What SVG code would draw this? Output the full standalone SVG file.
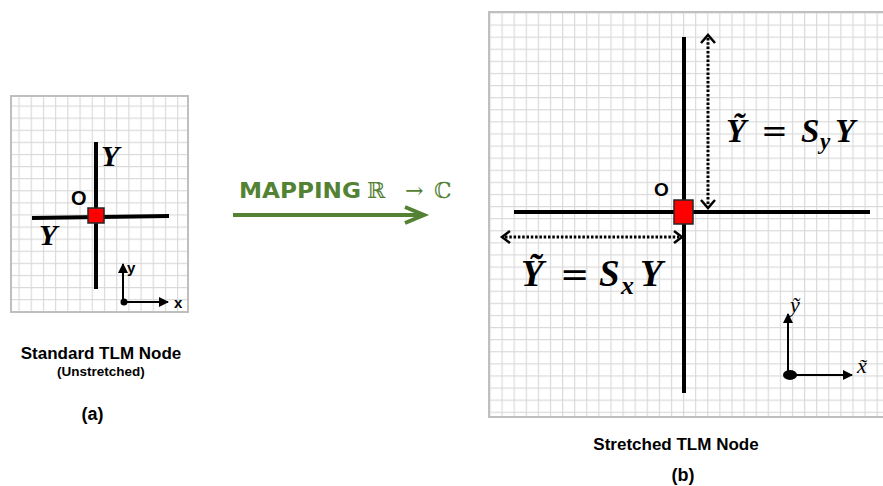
<svg xmlns="http://www.w3.org/2000/svg" width="883" height="486" viewBox="0 0 883 486">
<style>
.gl{stroke:#d9d9d9;stroke-width:1.3;fill:none}
.frame{fill:none;stroke:#bfbfbf;stroke-width:2}
.axis{stroke:#000;stroke-width:4;fill:none}
.node{fill:#ff0000;stroke:#262626;stroke-width:1.5}
.thin{stroke:#000;stroke-width:2;fill:none}
.dot{stroke:#000;stroke-width:3;stroke-dasharray:2.5 1.8;fill:none}
.chev{stroke:#000;stroke-width:2.5;fill:none}
.lbl{font-family:"Liberation Sans",Arial,sans-serif;font-weight:bold;fill:#000}
.math{font-family:"Liberation Serif","DejaVu Serif",serif;font-weight:bold;font-style:italic;fill:#000}
.eq{font-family:"DejaVu Serif",serif;font-weight:normal;font-style:normal;fill:#000}
.ax{font-family:"Liberation Serif","DejaVu Serif",serif;font-style:italic;fill:#000}
.green{fill:#548235}
</style>
<defs>
<pattern id="gA" x="18.5" y="105.5" width="12.2" height="12.1" patternUnits="userSpaceOnUse"><path d="M0.5 0V12.1M0 0.5H12.2" class="gl"/></pattern>
<pattern id="gB" x="501.5" y="24.5" width="12.1" height="12.1" patternUnits="userSpaceOnUse"><path d="M0.5 0V12.1M0 0.5H12.1" class="gl"/></pattern>
<marker id="ah" viewBox="0 0 10 10" refX="9" refY="5" markerWidth="5" markerHeight="5" orient="auto" markerUnits="strokeWidth"><path d="M0 0L10 5L0 10z" fill="#000"/></marker>
</defs>
<rect width="883" height="486" fill="#fff"/>

<g id="grid-a">
<rect x="11" y="96" width="177" height="216" fill="url(#gA)"/>
<rect x="11" y="96" width="177" height="216" class="frame"/>
</g>
<g id="grid-b">
<rect x="489" y="12" width="400" height="405" fill="url(#gB)"/>
<rect x="489" y="12" width="400" height="405" class="frame"/>
</g>

<g id="node-a">
<line x1="96" y1="142" x2="96" y2="289" class="axis"/>
<line x1="32" y1="218" x2="169" y2="216" class="axis"/>
<rect x="88" y="208" width="16" height="15" class="node"/>
<text x="71" y="205" class="lbl" font-size="20">O</text>
<text x="101" y="166" class="math" font-size="30">Y</text>
<text x="39" y="245" class="math" font-size="30">Y</text>
</g>
<g id="axes-a">
<line x1="123" y1="302" x2="123" y2="264" class="thin" marker-end="url(#ah)"/>
<line x1="123" y1="302" x2="168" y2="302" class="thin" marker-end="url(#ah)"/>
<circle cx="124" cy="302" r="3.5" fill="#000"/>
<text x="127" y="273" class="lbl" font-size="15">y</text>
<text x="174" y="308" class="lbl" font-size="15">x</text>
</g>
<g id="labels-a">
<text x="101" y="359" class="lbl" font-size="17" text-anchor="middle">Standard TLM Node</text>
<text x="101" y="376" class="lbl" font-size="13.5" text-anchor="middle">(Unstretched)</text>
<text x="92.5" y="420" class="lbl" font-size="18" text-anchor="middle">(a)</text>
</g>

<g id="mapping">
<text x="239" y="198" font-family="DejaVu Sans,sans-serif" font-weight="bold" font-size="21" textLength="122" lengthAdjust="spacingAndGlyphs" class="green">MAPPING</text>
<text y="198" font-family="DejaVu Serif,serif" font-size="22" class="green"><tspan x="367">ℝ</tspan><tspan x="405">→</tspan><tspan x="434">ℂ</tspan></text>
</g>

<g id="node-b">
<line x1="684" y1="37" x2="684" y2="393" class="axis"/>
<line x1="514" y1="212" x2="870" y2="212" class="axis"/>
<rect x="674" y="200" width="19" height="24" class="node"/>
<text x="654" y="196" class="lbl" font-size="19">O</text>
<text y="142" class="math" font-size="33"><tspan x="726">Ỹ</tspan><tspan x="761" class="eq" font-size="32">=</tspan><tspan x="801">S</tspan><tspan x="820" dy="7" font-size="23">y</tspan><tspan x="835" dy="-7">Y</tspan></text>
<text y="286" class="math" font-size="37"><tspan x="521">Ỹ</tspan><tspan x="560" class="eq" font-size="35">=</tspan><tspan x="599">S</tspan><tspan x="621" dy="8" font-size="26">x</tspan><tspan x="640" dy="-8">Y</tspan></text>
</g>
<g id="axes-b">
<line x1="788" y1="375" x2="788" y2="314" class="thin" marker-end="url(#ah)"/>
<line x1="790" y1="375" x2="852" y2="375" class="thin" marker-end="url(#ah)"/>
<ellipse cx="790" cy="375" rx="7" ry="5" fill="#000"/>
<text x="790" y="312" class="ax" font-size="22">ỹ</text>
<text x="857" y="373" class="ax" font-size="22">x̃</text>
</g>
<g id="labels-b">
<text x="676" y="450" class="lbl" font-size="17" text-anchor="middle">Stretched TLM Node</text>
<text x="683" y="481" class="lbl" font-size="18" text-anchor="middle">(b)</text>
</g>

<g id="connectors">
<line x1="233" y1="215" x2="422" y2="215" stroke="#548235" stroke-width="4"/>
<path d="M405 207L424 215L405 223" stroke="#548235" stroke-width="4" fill="none"/>
<line x1="708" y1="38" x2="708" y2="205" class="dot"/>
<path d="M701 43L708 35L715 43" class="chev"/>
<path d="M701 200L708 208L715 200" class="chev"/>
<line x1="505" y1="237" x2="679" y2="237" class="dot"/>
<path d="M510 231L502 237L510 243" class="chev"/>
<path d="M674 231L682 237L674 243" class="chev"/>
</g>
</svg>
